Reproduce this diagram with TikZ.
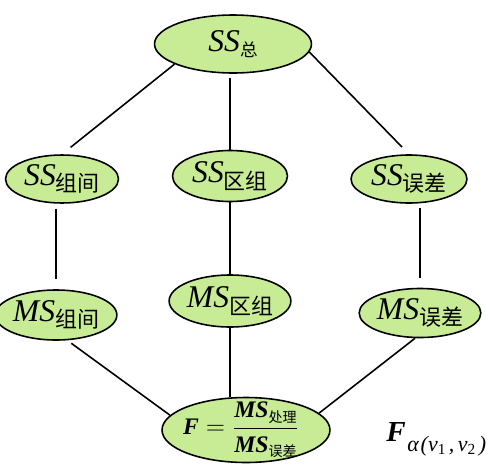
\documentclass[tikz,border=0pt]{standalone}
\usepackage{fontspec}
\setmainfont{Liberation Serif}
\newfontfamily\cjk{Noto Sans CJK SC}
\usetikzlibrary{shapes.geometric}
\definecolor{nodegreen}{RGB}{200,236,150}
\newcommand\ovallabel[4]{{\fontsize{18}{18}\selectfont\itshape #1}\raisebox{#4}{\fontsize{#3}{#3}\selectfont\cjk #2}}
\newcommand\boldms[1]{\mbox{{\bfseries\itshape MS}\raisebox{-2.8pt}{\fontsize{8}{8}\selectfont\cjk #1}}}
\begin{document}
\begin{tikzpicture}[x=0.02cm,y=-0.02cm,
  oval/.style 2 args={ellipse,draw=black,line width=0.9pt,fill=nodegreen,inner sep=0pt,minimum width=#1,minimum height=#2},
  conn/.style={line width=0.9pt}]
\fill[white] (0,0) rectangle (491,474);
\useasboundingbox (0,0) rectangle (491,474);
% nodes
\node[oval={3.14cm}{1.16cm}] (sst) at (233,44) {\ovallabel{SS}{总}{10}{-3pt}};
\node[oval={2.26cm}{0.96cm}] (ssz) at (62,179) {\ovallabel{SS}{组间}{12.5}{-3.6pt}};
\node[oval={2.30cm}{1.02cm}] (ssq) at (230,176) {\ovallabel{SS}{区组}{12.5}{-3.6pt}};
\node[oval={2.32cm}{0.96cm}] (sse) at (409,179) {\ovallabel{SS}{误差}{12.5}{-3.6pt}};
\node[oval={2.28cm}{1.00cm}] (msz) at (56,315) {\ovallabel{MS}{组间}{12.5}{-3.6pt}};
\node[oval={2.32cm}{1.04cm}] (msq) at (230,301) {\ovallabel{MS}{区组}{12.5}{-3.6pt}};
\node[oval={2.32cm}{0.98cm}] (mse) at (420,313) {\ovallabel{MS}{误差}{12.5}{-3.6pt}};
\node[oval={3.36cm}{1.30cm}] (f) at (246,430) {};
\node[inner sep=0pt,xshift=-0.1cm] (ftext) at (f.center) {\fontsize{13.5}{16}\selectfont
  $\mbox{\bfseries\itshape F}=\displaystyle\frac{\boldms{处理}}{\boldms{误差}}$};
\node[anchor=base west,inner sep=0pt] (flab) at (386,441) {{\fontsize{16.5}{17}\selectfont\bfseries\itshape F}\hspace{1pt}\raisebox{-5.7pt}{\fontsize{12.5}{13}\selectfont\itshape α\hspace{1pt}(ν\textsubscript{\upshape 1}\hspace{1.5pt},\hspace{2pt}ν\textsubscript{\upshape 2}\hspace{1.5pt})}};
% connectors
\draw[conn,shorten >=0.22cm] (sst.199) -- (ssz.north);
\draw[conn,shorten <=0.08cm] (ssq.north |- sst.south) -- (ssq.north);
\draw[conn,shorten >=0.2cm] (sst.-6) -- (sse.north);
\draw[conn,shorten <=0.1cm,shorten >=0.2cm] (msz.north |- ssz.south) -- (msz.north);
\draw[conn] (ssq.south) -- (msq.north);
\draw[conn,shorten <=0.08cm,shorten >=0.2cm] (mse.north |- sse.south) -- (mse.north);
\draw[conn,shorten <=0.1cm] (msz.-66) -- (f.169);
\draw[conn] (msq.south) -- (msq.south |- f.north);
\draw[conn] (mse.259) -- (f.13);
\end{tikzpicture}
\end{document}
